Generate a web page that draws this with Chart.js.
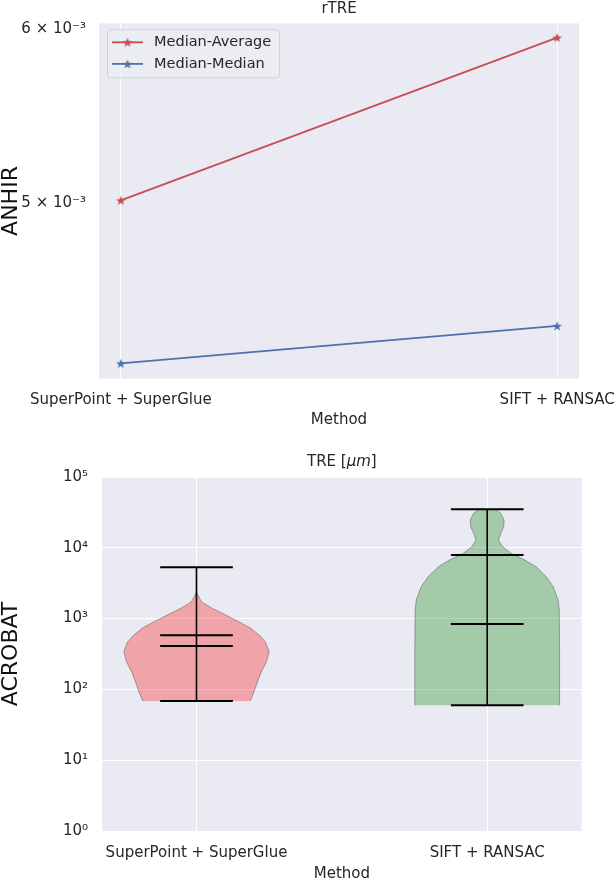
<!DOCTYPE html>
<html>
<head>
<meta charset="utf-8">
<script src="https://cdn.jsdelivr.net/npm/chart.js@4.4.1/dist/chart.umd.min.js"></script>
<style>
  html, body { margin: 0; padding: 0; background: #fff; }
  canvas { display: block; }
</style>
</head>
<body>
<canvas id="rtre" width="616" height="441"></canvas>
<canvas id="tre" width="616" height="441"></canvas>
<script>
// ---- data ----
const methods = ['SuperPoint + SuperGlue', 'SIFT + RANSAC'];

// top panel: rTRE on ANHIR
const medianAverage = [5.017e-3, 5.946e-3];
const medianMedian = [4.232e-3, 4.401e-3];
const rtreTicks = [5e-3, 6e-3];
const rtreTickLabels = ['5 × 10⁻³', '6 × 10⁻³'];

// bottom panel: TRE [um] on ACROBAT (violins)
const treTicks = [1, 10, 100, 1000, 10000, 100000];
const treTickLabels = ['10⁰', '10¹', '10²', '10³', '10⁴', '10⁵'];
const treMin = [68.6, 59.6];
const treMax = [5305, 34990];
const treMean = [580, 7910];
const treMedian = [410, 839];

// violin outlines: TRE value and half width (x units)
const spgProfileY = [68.6, 92.8, 128, 178, 246, 341, 472, 587, 736, 904, 1125, 1412, 1733, 2154, 2400];
const spgProfileW = [0.185, 0.198, 0.21, 0.223, 0.241, 0.25, 0.237, 0.215, 0.186, 0.146, 0.1, 0.052, 0.017, 0.005, 0];
const siftProfileY = [59.6, 360, 1324, 1833, 2826, 3910, 5410, 6730, 8360, 10370, 12880, 16030, 19870, 24700, 30700, 34990];
const siftProfileW = [0.249, 0.249, 0.248, 0.244, 0.227, 0.203, 0.168, 0.129, 0.082, 0.053, 0.039, 0.047, 0.057, 0.058, 0.047, 0.029];

const red = '#C44E52';
const blue = '#4C72B0';
const ink = '#262626';
const axesBg = '#EAEAF2';

Chart.defaults.font.family = "'DejaVu Sans', sans-serif";
Chart.defaults.font.size = 15;
Chart.defaults.color = ink;

// filled star marker like matplotlib '*'
function traceStar(g, cx, cy, r) {
  g.beginPath();
  for (let i = 0; i < 10; i++) {
    const rad = i % 2 ? r * 0.42 : r;
    const a = -Math.PI / 2 + i * Math.PI / 5;
    g.lineTo(cx + rad * Math.cos(a), cy + rad * Math.sin(a));
  }
  g.closePath();
}
function starCanvas(color, r) {
  const c = document.createElement('canvas');
  const s = Math.ceil(r * 2 + 2);
  c.width = c.height = s;
  const g = c.getContext('2d');
  traceStar(g, s / 2, s / 2 + 0.5, r);
  g.fillStyle = color;
  g.fill();
  return c;
}

const axesBackground = {
  id: 'axesBackground',
  beforeDraw(chart) {
    const { ctx, chartArea: a } = chart;
    ctx.save();
    ctx.fillStyle = axesBg;
    ctx.fillRect(a.left, a.top, a.right - a.left, a.bottom - a.top);
    ctx.restore();
  }
};

// legend in the upper left corner of the axes
const innerLegend = {
  id: 'innerLegend',
  afterDatasetsDraw(chart) {
    const { ctx, chartArea: a } = chart;
    const x = a.left + 8, y = a.top + 6, w = 172, h = 48;
    ctx.save();
    ctx.fillStyle = 'rgba(236,236,243,0.85)';
    ctx.strokeStyle = 'rgba(205,205,210,0.9)';
    ctx.lineWidth = 1;
    ctx.beginPath();
    ctx.roundRect(x + 0.5, y + 0.5, w, h, 3);
    ctx.fill();
    ctx.stroke();
    ctx.font = "14.5px 'DejaVu Sans'";
    ctx.textBaseline = 'middle';
    chart.data.datasets.forEach((ds, i) => {
      const ly = y + 13 + i * 21.6;
      ctx.strokeStyle = ds.borderColor;
      ctx.lineWidth = ds.borderWidth;
      ctx.beginPath();
      ctx.moveTo(x + 5, ly);
      ctx.lineTo(x + 36, ly);
      ctx.stroke();
      const img = ds.pointStyle;
      ctx.drawImage(img, x + 20.5 - img.width / 2, ly - img.height / 2);
      ctx.fillStyle = ink;
      ctx.fillText(ds.label, x + 47, ly);
    });
    ctx.restore();
  }
};

// ---- top: rTRE ----
new Chart(document.getElementById('rtre'), {
  type: 'line',
  data: {
    datasets: [
      {
        label: 'Median-Average',
        data: methods.map((m, i) => ({ x: i, y: medianAverage[i] })),
        borderColor: red,
        backgroundColor: red,
        borderWidth: 1.8,
        pointStyle: starCanvas(red, 5),
        pointRadius: 5
      },
      {
        label: 'Median-Median',
        data: methods.map((m, i) => ({ x: i, y: medianMedian[i] })),
        borderColor: blue,
        backgroundColor: blue,
        borderWidth: 1.8,
        pointStyle: starCanvas(blue, 5),
        pointRadius: 5
      }
    ]
  },
  options: {
    responsive: false,
    animation: false,
    events: [],
    devicePixelRatio: 1,
    layout: { padding: { left: 0, right: 37, top: 0, bottom: 0 } },
    plugins: {
      legend: { display: false },
      tooltip: { enabled: false },
      title: {
        display: true,
        text: 'rTRE',
        fullSize: false,
        color: ink,
        font: { size: 15, weight: 'normal' },
        padding: { top: 0, bottom: 5.3 }
      }
    },
    scales: {
      x: {
        type: 'linear',
        min: -0.05,
        max: 1.05,
        afterBuildTicks: (s) => { s.ticks = methods.map((m, i) => ({ value: i })); },
        afterFit: (s) => { s.height = 62.3; s.paddingLeft = 0; s.paddingRight = 0; },
        grid: { color: '#ffffff', lineWidth: 1, drawTicks: false },
        border: { display: false },
        ticks: {
          callback: (v, i) => methods[i],
          padding: 12.3,
          maxRotation: 0,
          autoSkip: false,
          color: ink
        },
        title: { display: true, text: 'Method', color: ink, padding: { top: 0, bottom: 12 } }
      },
      y: {
        type: 'logarithmic',
        min: 4.165e-3,
        max: 6.035e-3,
        afterBuildTicks: (s) => { s.ticks = rtreTicks.map(v => ({ value: v })); },
        afterFit: (s) => { s.width = 99; },
        grid: { display: false },
        border: { display: false },
        ticks: { callback: (v, i) => rtreTickLabels[i], padding: 5, color: ink },
        title: {
          display: true,
          text: 'ANHIR',
          color: '#111',
          font: { size: 22, lineHeight: 1 },
          padding: { top: 0, bottom: 0 }
        }
      }
    }
  },
  plugins: [axesBackground, innerLegend]
});

// ---- bottom: TRE violins ----
const treTitle = [['TRE [', 'normal'], ['μm', 'italic'], [']', 'normal']];
const mathTitle = {
  id: 'mathTitle',
  afterDraw(chart) {
    const { ctx, chartArea: a } = chart;
    ctx.save();
    ctx.fillStyle = ink;
    ctx.textBaseline = 'middle';
    const fonts = treTitle.map(p => `${p[1]} 15px 'DejaVu Sans'`);
    let total = 0;
    treTitle.forEach((p, i) => { ctx.font = fonts[i]; total += ctx.measureText(p[0]).width; });
    let x = (a.left + a.right) / 2 - total / 2;
    treTitle.forEach((p, i) => {
      ctx.font = fonts[i];
      ctx.fillText(p[0], x, 20.7);
      x += ctx.measureText(p[0]).width;
    });
    ctx.restore();
  }
};

function violinOutline(center, ys, ws) {
  const right = ys.map((y, i) => ({ x: center + ws[i], y }));
  const left = ys.map((y, i) => ({ x: center - ws[i], y })).reverse();
  return right.concat(left);
}

const violinColors = ['rgba(255,0,0,0.3)', 'rgba(0,128,0,0.3)'];
const profiles = [[spgProfileY, spgProfileW], [siftProfileY, siftProfileW]];
const treDatasets = [];
methods.forEach((m, i) => {
  const c = i + 1;
  treDatasets.push({
    data: violinOutline(c, profiles[i][0], profiles[i][1]),
    showLine: true,
    fill: 'shape',
    // tiny tension keeps Chart.js off its x-monotonic fast path
    tension: 0.000001,
    backgroundColor: violinColors[i],
    borderColor: 'rgba(0,0,0,0.3)',
    borderWidth: 1,
    pointRadius: 0,
    order: 2
  });
  [treMin[i], treMax[i], treMean[i], treMedian[i]].forEach(v => {
    treDatasets.push({
      data: [{ x: c - 0.125, y: v }, { x: c + 0.125, y: v }],
      showLine: true,
      borderColor: '#000',
      borderWidth: 2,
      pointRadius: 0,
      order: 1
    });
  });
  treDatasets.push({
    data: [{ x: c, y: treMin[i] }, { x: c, y: treMax[i] }],
    showLine: true,
    borderColor: '#000',
    borderWidth: 1.6,
    pointRadius: 0,
    order: 1
  });
});

new Chart(document.getElementById('tre'), {
  type: 'scatter',
  data: { datasets: treDatasets },
  options: {
    responsive: false,
    animation: false,
    events: [],
    devicePixelRatio: 1,
    layout: { padding: { left: 0, right: 34.3, top: 36, bottom: 0 } },
    plugins: {
      legend: { display: false },
      tooltip: { enabled: false }
    },
    scales: {
      x: {
        type: 'linear',
        min: 0.675,
        max: 2.325,
        afterBuildTicks: (s) => { s.ticks = methods.map((m, i) => ({ value: i + 1 })); },
        afterFit: (s) => { s.height = 51; s.paddingLeft = 0; s.paddingRight = 0; },
        grid: { color: '#ffffff', lineWidth: 1, drawTicks: false },
        border: { display: false },
        ticks: {
          callback: (v, i) => methods[i],
          padding: 13,
          maxRotation: 0,
          autoSkip: false,
          color: ink
        },
        title: {
          display: true,
          text: 'Method',
          color: ink,
          font: { lineHeight: 1 },
          padding: { top: 0, bottom: 0 }
        }
      },
      y: {
        type: 'logarithmic',
        min: 1,
        max: 100000,
        afterBuildTicks: (s) => { s.ticks = treTicks.map(v => ({ value: v })); },
        afterFit: (s) => { s.width = 102; },
        grid: { color: '#ffffff', lineWidth: 1, drawTicks: false },
        border: { display: false },
        ticks: { callback: (v, i) => treTickLabels[i], padding: 14, color: ink },
        title: {
          display: true,
          text: 'ACROBAT',
          color: '#111',
          font: { size: 22, lineHeight: 1 },
          padding: { top: 0, bottom: 0 }
        }
      }
    }
  },
  plugins: [axesBackground, mathTitle]
});
</script>
</body>
</html>
